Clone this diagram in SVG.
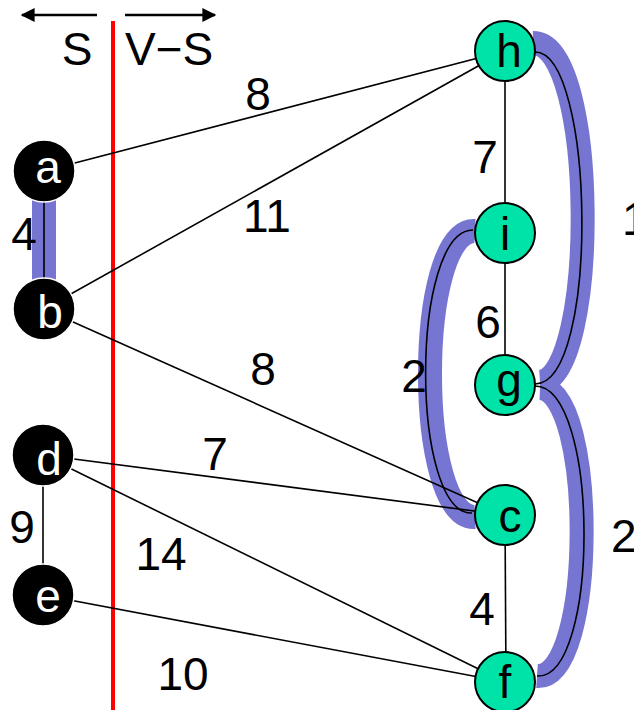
<svg xmlns="http://www.w3.org/2000/svg" width="634" height="710" viewBox="0 0 634 710">
<style>
text{font-family:"Liberation Sans",Arial,sans-serif;font-size:46px;fill:#000}
.edge{stroke:#000;stroke-width:1.6;fill:none}
.band{stroke:#7676d2;stroke-width:24;fill:none}
.cut{fill:#000;stroke:#fff;stroke-width:1.5}
.vs{fill:#00e3a8;stroke:#000;stroke-width:2}
.wl{fill:#fff;text-anchor:middle}
.bl{text-anchor:middle}
.lbl{text-anchor:middle}
</style>
<defs>
<marker id="ah" viewBox="0 0 10 10" refX="9" refY="5" markerWidth="7" markerHeight="5.5" markerUnits="userSpaceOnUse" orient="auto">
<path d="M0,0 L10,5 L0,10 z" fill="#000"/>
</marker>
<marker id="ahb" viewBox="0 0 10 10" refX="9" refY="5" markerWidth="17" markerHeight="14" markerUnits="userSpaceOnUse" orient="auto">
<path d="M0,0 L10,5 L0,10 z" fill="#000"/>
</marker>
</defs>
<g id="header">
<line x1="97" y1="15" x2="22" y2="15" stroke="#000" stroke-width="2.5" marker-end="url(#ahb)"/>
<line x1="125" y1="15" x2="215" y2="15" stroke="#000" stroke-width="2.5" marker-end="url(#ahb)"/>
<text x="77" y="65" class="lbl">S</text>
<text x="125" y="65">V−S</text>
<line x1="113" y1="21" x2="113" y2="710" stroke="#ff0000" stroke-width="4"/>
</g>
<g id="connectors">
<path class="band" d="M44,171 L44,309"/>
<path class="band" d="M533,43 C598,42 598,378 540,382" stroke-width="22"/>
<path class="band" d="M540,388 C596,390 596,680 537,676"/>
<path class="band" d="M475,231 C415,228 415,520 475,517"/>
<line class="edge" x1="44" y1="171" x2="505" y2="51"/>
<line class="edge" x1="44" y1="309" x2="505" y2="51"/>
<line class="edge" x1="44" y1="309" x2="505" y2="515"/>
<line class="edge" x1="43" y1="455" x2="505" y2="515"/>
<line class="edge" x1="43" y1="455" x2="505" y2="682"/>
<line class="edge" x1="43" y1="595" x2="505" y2="682"/>
<line class="edge" x1="43" y1="455" x2="43" y2="595"/>
<line class="edge" x1="44" y1="171" x2="44" y2="309"/>
<line class="edge" x1="505" y1="51" x2="505" y2="385"/>
<line class="edge" x1="505" y1="515" x2="506" y2="682"/>
<path class="edge" d="M535,52 C595,52 600,384 535,384"/>
<path class="edge" d="M535,386 C600,386 600,680 537,676"/>
<path class="edge" d="M473,230 C410,230 410,515 472,513"/>
</g>
<g id="edge-labels">
<text x="258" y="110" class="lbl">8</text>
<text x="267" y="232" class="lbl">11</text>
<text x="263" y="385" class="lbl">8</text>
<text x="215" y="470" class="lbl">7</text>
<text x="22" y="543" class="lbl">9</text>
<text x="161" y="570" class="lbl">14</text>
<text x="183" y="690" class="lbl">10</text>
<text x="24" y="250" class="lbl">4</text>
<text x="414" y="392" class="lbl">2</text>
<text x="488" y="338" class="lbl">6</text>
<text x="485" y="173" class="lbl">7</text>
<text x="482" y="625" class="lbl">4</text>
<text x="622" y="235">1</text>
<text x="611" y="552">2</text>
</g>
<g id="node-a"><circle class="cut" cx="44" cy="171" r="31"/><text class="wl" x="48" y="183">a</text></g>
<g id="node-b"><circle class="cut" cx="44" cy="309" r="31"/><text class="wl" x="50" y="328">b</text></g>
<g id="node-d"><circle class="cut" cx="43" cy="455" r="31"/><text class="wl" x="49" y="475">d</text></g>
<g id="node-e"><circle class="cut" cx="43" cy="595" r="31"/><text class="wl" x="48" y="612">e</text></g>
<g id="node-h"><circle class="vs" cx="505" cy="51" r="30"/><text class="bl" x="509" y="67">h</text></g>
<g id="node-i"><circle class="vs" cx="505" cy="233" r="30"/><text class="bl" x="505" y="250">i</text></g>
<g id="node-g"><circle class="vs" cx="505" cy="385" r="30"/><text class="bl" x="509" y="396">g</text></g>
<g id="node-c"><circle class="vs" cx="505" cy="515" r="30"/><text class="bl" x="510" y="532">c</text></g>
<g id="node-f"><circle class="vs" cx="505" cy="682" r="30"/><text class="bl" x="505" y="698">f</text></g>
</svg>
